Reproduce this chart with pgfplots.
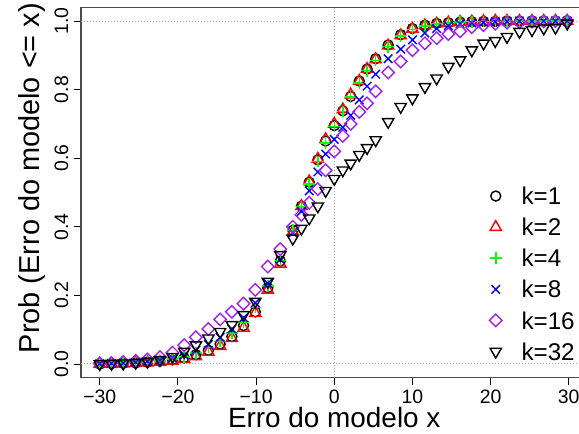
\documentclass[border=0pt]{standalone}
\usepackage{fontspec}
\setmainfont{Liberation Sans}
\usepackage{pgfplots}
\usepackage{pgfplotstable}
\pgfplotsset{compat=1.18}
\definecolor{rgreen}{RGB}{0,255,0}
\definecolor{rpurple}{RGB}{160,32,240}

% ECDF of model error, one column per k
\pgfplotstableread{
x      k1     k2     k4     k8     k16    k32
-30    0.000  0.000  0.001  0.001  0.002  0.000
-28.5  0.001  0.000  0.002  0.002  0.003  0.001
-27    0.002  0.001  0.003  0.003  0.006  0.002
-25.4  0.003  0.002  0.004  0.005  0.009  0.004
-23.9  0.005  0.004  0.006  0.008  0.013  0.007
-22.3  0.008  0.006  0.009  0.011  0.020  0.012
-20.7  0.012  0.009  0.014  0.017  0.033  0.021
-19.2  0.018  0.014  0.021  0.026  0.055  0.036
-17.7  0.027  0.022  0.032  0.040  0.078  0.055
-16.1  0.040  0.035  0.048  0.057  0.102  0.075
-14.6  0.058  0.052  0.066  0.077  0.130  0.094
-13.1  0.080  0.075  0.090  0.102  0.152  0.114
-11.6  0.112  0.105  0.122  0.135  0.176  0.143
-10.1  0.152  0.148  0.165  0.178  0.216  0.182
-8.5   0.222  0.216  0.228  0.235  0.284  0.240
-6.9   0.300  0.292  0.302  0.305  0.335  0.318
-5.3   0.390  0.385  0.390  0.382  0.400  0.366
-4.2   0.460  0.460  0.458  0.445  0.435  0.395
-3.2   0.530  0.532  0.525  0.505  0.470  0.425
-2.1   0.595  0.598  0.590  0.560  0.510  0.460
-1.1   0.650  0.655  0.645  0.612  0.565  0.505
0      0.695  0.700  0.692  0.655  0.620  0.540
1.1    0.738  0.742  0.736  0.690  0.665  0.565
2.1    0.780  0.785  0.778  0.725  0.700  0.585
3.2    0.825  0.825  0.820  0.770  0.735  0.610
4.2    0.860  0.860  0.855  0.810  0.760  0.630
5.3    0.890  0.888  0.885  0.845  0.795  0.653
6.9    0.930  0.928  0.925  0.890  0.850  0.706
8.5    0.960  0.958  0.956  0.918  0.882  0.750
10.0   0.978  0.977  0.975  0.945  0.915  0.775
11.6   0.988  0.987  0.986  0.965  0.935  0.808
13.1   0.993  0.992  0.992  0.978  0.950  0.833
14.6   0.995  0.995  0.995  0.986  0.962  0.867
16.1   0.997  0.997  0.997  0.991  0.970  0.886
17.6   0.998  0.998  0.998  0.994  0.982  0.915
19.1   0.999  0.999  0.999  0.996  0.988  0.935
20.6   0.999  1.000  0.999  0.998  0.992  0.942
22.1   1.000  1.000  1.000  0.999  0.995  0.954
23.7   1.000  1.000  1.000  1.000  0.997  0.969
25.3   1.000  1.000  1.000  1.000  0.998  0.974
26.8   1.000  1.000  1.000  1.000  0.999  0.979
28.3   1.000  1.000  1.000  1.000  1.000  0.981
29.8   1.000  1.000  1.000  1.000  1.000  0.993
}\ecdf

\begin{document}
\begin{tikzpicture}
\begin{axis}[
  at={(0,0)}, anchor=south west,
  scale only axis,
  width=506.5bp, height=370.4bp,
  xmin=-32.4, xmax=32.4,
  ymin=-0.04, ymax=1.04,
  axis line style={black!70, line width=1.1bp},
  tick align=outside,
  major tick length=7bp,
  major tick style={black, line width=0.9bp},
  xtick pos=bottom, ytick pos=left,
  xtick={-30,-20,-10,0,10,20,30},
  xticklabels={−30,−20,−10,0,10,20,30},
  ytick={0,0.2,0.4,0.6,0.8,1},
  yticklabels={0.0,0.2,0.4,0.6,0.8,1.0},
  tick label style={font=\fontsize{19.5}{20}\selectfont, inner sep=0pt},
  xticklabel style={anchor=base}, xticklabel shift=18.5bp,
  yticklabel style={rotate=90, anchor=base}, yticklabel shift=6bp,
  xlabel={Erro do modelo x},
  xlabel style={at={(axis description cs:0.5,0)}, anchor=base, yshift=-50.1bp,
    inner sep=0pt, font=\fontsize{28}{29}\selectfont},
  ylabel={Prob (Erro do modelo <= x)},
  ylabel style={at={(axis description cs:-0.081,0.539)}, anchor=base,
    inner sep=0pt, font=\fontsize{29}{30}\selectfont},
  legend style={at={(0.7937,0.532)}, anchor=north west, draw=none, fill=none,
    inner sep=0pt, outer sep=0pt, row sep=0pt,
    font=\fontsize{24.3}{25}\selectfont,
    cells={anchor=base west},
    nodes={inner sep=0pt, text height=24bp, text depth=7.1bp}},
  legend image code/.code={
    \draw[#1, yshift=8.6bp] plot coordinates {(0bp,0bp)};
    \path (-12bp,0bp) (25bp,0bp);},
]
% dotted reference lines
\draw[black!35, line width=1bp, dash pattern=on 1bp off 2bp] (axis cs:-32.4,0) -- (axis cs:32.4,0);
\draw[black!35, line width=1bp, dash pattern=on 1bp off 2bp] (axis cs:-32.4,1) -- (axis cs:32.4,1);
\draw[black!35, line width=1bp, dash pattern=on 1bp off 2bp] (axis cs:0,-0.04) -- (axis cs:0,1.04);

\addplot[only marks, color=black, mark=o, mark size=5bp, line width=1.4bp] table[x=x, y=k1] {\ecdf};
\addplot[only marks, color=red, mark=triangle, mark size=6.5bp, line width=1.4bp] table[x=x, y=k2] {\ecdf};
\addplot[only marks, color=rgreen, mark=+, mark size=5.8bp, line width=1.5bp] table[x=x, y=k4] {\ecdf};
\addplot[only marks, color=blue, mark=x, mark size=6bp, line width=1.4bp] table[x=x, y=k8] {\ecdf};
\addplot[only marks, color=rpurple, mark=square, mark options={rotate=45}, mark size=4.4bp, line width=1.4bp] table[x=x, y=k16] {\ecdf};
\addplot[only marks, color=black, mark=triangle, mark options={rotate=180}, mark size=6.5bp, line width=1.4bp] table[x=x, y=k32] {\ecdf};
\legend{k=1, k=2, k=4, k=8, k=16, k=32}
\end{axis}
\pgfresetboundingbox
\useasboundingbox (-81bp,-56.3bp) rectangle (498bp,377.7bp);
\end{tikzpicture}
\end{document}
